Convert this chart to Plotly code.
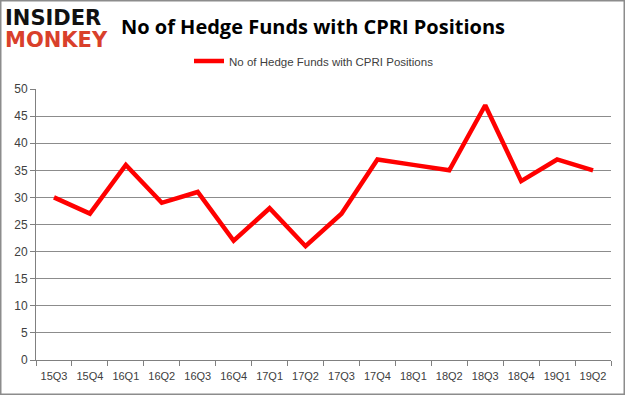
import plotly.graph_objects as go

quarters = ["15Q3", "15Q4", "16Q1", "16Q2", "16Q3", "16Q4", "17Q1", "17Q2",
            "17Q3", "17Q4", "18Q1", "18Q2", "18Q3", "18Q4", "19Q1", "19Q2"]
hedge_funds = [30, 27, 36, 29, 31, 22, 28, 21, 27, 37, 36, 35, 47, 33, 37, 35]
series_name = "No of Hedge Funds with CPRI Positions"
y_ticks = [0, 5, 10, 15, 20, 25, 30, 35, 40, 45, 50]

W, H = 625, 395
ml, mr, mt, mb = 36, 14, 89, 35
pw, ph = W - ml - mr, H - mt - mb

fig = go.Figure()
fig.add_trace(go.Scatter(
    x=quarters, y=hedge_funds, mode="lines", name=series_name,
    line=dict(color="#ff0000", width=4.5),
))

def px(x):
    return (x - ml) / pw

def py(y):
    return (H - mb - y) / ph

fig.update_layout(
    width=W, height=H,
    margin=dict(l=ml, r=mr, t=mt, b=mb),
    paper_bgcolor="white", plot_bgcolor="white",
    font=dict(family="Liberation Sans, Arial, sans-serif", color="#404040", size=11),
    showlegend=True,
    legend=dict(orientation="h", x=px(189), xanchor="left", y=py(61), yanchor="middle",
                font=dict(size=11.5, color="#404040"), itemwidth=30),
    title=dict(text="<b>No of Hedge Funds with CPRI Positions</b>",
               xref="container", x=313 / W, xanchor="center",
               yref="container", y=1 - 27 / H, yanchor="middle",
               font=dict(family="Open Sans, Liberation Sans, sans-serif", size=20, color="#000000")),
    xaxis=dict(type="category", range=[-0.5, len(quarters) - 0.5],
               tickson="boundaries", ticks="outside", ticklen=5,
               tickcolor="#808080", showline=True, linecolor="#808080", linewidth=1,
               showgrid=False, tickfont=dict(size=11, color="#404040"),
               ticklabelstandoff=6, fixedrange=True),
    yaxis=dict(range=[0, 50], tickvals=y_ticks, ticks="outside", ticklen=5,
               tickcolor="#808080", showline=True, linecolor="#808080", linewidth=1,
               showgrid=True, gridcolor="#8c8c8c", gridwidth=1, zeroline=False,
               tickfont=dict(size=12, color="#404040"), fixedrange=True),
)

# outer frame
fig.add_shape(type="rect", xref="paper", yref="paper",
              x0=px(0), x1=px(W), y0=py(H), y1=py(0),
              line=dict(color="#8c8c8c", width=3), fillcolor="rgba(0,0,0,0)", layer="above")

# logo
fig.add_annotation(text="<b>INSIDER</b>", xref="paper", yref="paper", x=px(3), y=py(18),
                   xanchor="left", yanchor="middle", showarrow=False,
                   font=dict(family="DejaVu Sans, sans-serif", size=21, color="#111111"))
fig.add_annotation(text="<b>MONKEY</b>", xref="paper", yref="paper", x=px(3), y=py(40),
                   xanchor="left", yanchor="middle", showarrow=False,
                   font=dict(family="DejaVu Sans, sans-serif", size=21, color="#d9402b"))

fig.write_html("out.html", config={"displayModeBar": False},
               post_script="document.body.style.margin='0';")
